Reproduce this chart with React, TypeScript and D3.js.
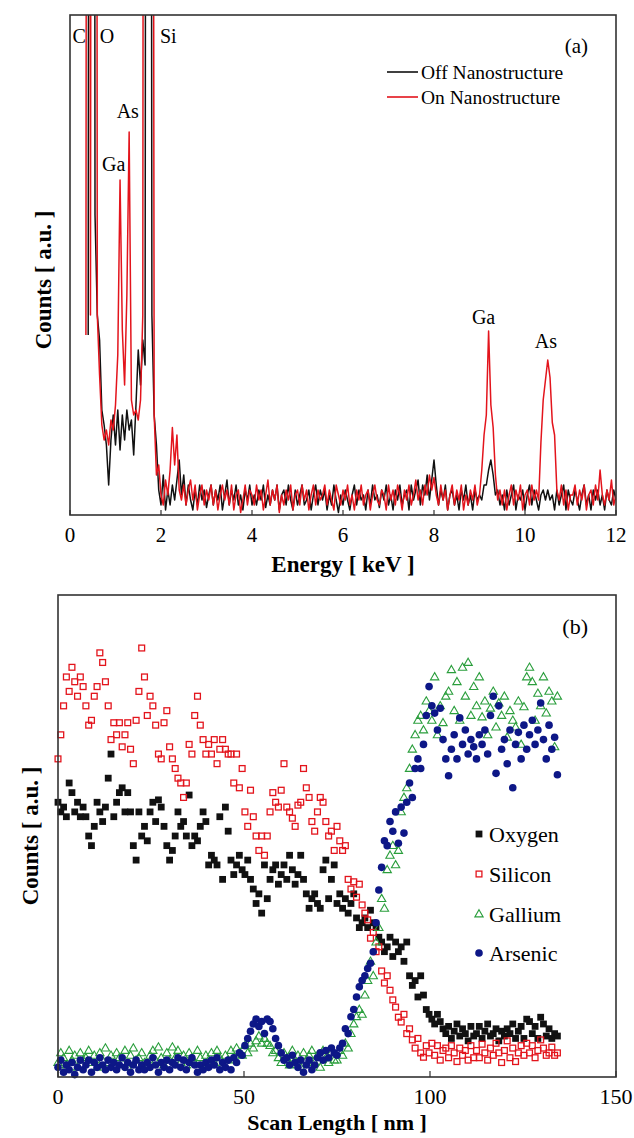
import React from "react";
import * as d3 from "d3";

// ---- panel (a): EDS spectra, one value per 0.05 keV channel from 0.35 keV ----
const channelStart = 0.35;
const channelStep = 0.05;

const offCounts: (number | null)[] = [
  null, 36, 600, 600, 60, 40, 35, 21, 18, 14,
  6, 15, 20, 14, 21, 13, 20, 15, 21, 17,
  19, 12, 22, 33, 26, 35, 30, 500, 500, 40,
  20, 14, 5, 2,
  8, 1, 5, 2, 6, 3, 7, 11, 4, 8,
  2, 6, 3, 1, 5, 2, 6, 3, 5, 1.5,
  4, 6, 2, 5, 3, 6, 1, 4, 7, 2,
  5, 3, 6, 2, 4, 1, 5, 3, 6, 2,
  4, 2, 5, 3, 6, 1.5, 4, 2, 5, 3,
  6, 1, 4, 5, 2, 6, 3, 1, 5, 2,
  4, 6, 2, 3, 5, 1, 4, 6, 2, 5,
  3, 5, 1, 4, 2, 6, 3, 0.5, 4, 2,
  5, 3, 1, 4, 6, 2, 5, 3, 4, 1,
  5, 2, 6, 3, 4, 1.5, 5, 3, 6, 2,
  4, 1, 5, 3, 6, 2, 4, 5, 1, 6,
  3, 5, 7, 2, 6, 4, 8, 3, 7, 11,
  6, 2, 5, 3, 6, 1, 4, 5, 2, 4,
  1, 5, 3, 6, 2, 4, 1, 5, 3, 4,
  3, 6, 6, 9, 11, 8, 4, 5, 2, 4,
  1, 5, 2, 4, 6, 1, 4, 3, 5, 1,
  4, 6, 2, 5, 3, 1, 4, 5, 3, 5,
  3, 4, 1, 5, 2, 4, 6, 1, 5, 3,
  2, 5, 3, 1, 4, 6, 2, 4, 1, 5,
  3, 5, 2, 4, 1, 5, 3, 2, 5, 3,
];

const onCounts: number[] = [
  36, 600, 40, 600, 600, 40, 28, 18, 15, 17,
  14, 19, 17, 22, 32, 67, 37, 26, 44, 76.6,
  23, 20, 21, 19, 23, 40, 600, 600, 600, 400,
  20, 8, 10, 4,
  2, 7, 4, 9, 17.5, 10, 16, 5, 3, 6,
  2, 5, 7, 3, 6, 1, 4, 6, 2, 5,
  3, 6, 2, 5, 1, 4, 6, 3, 5, 2,
  6, 1, 4, 5, 0.5, 3, 6, 2, 5, 4,
  2, 6, 3, 5, 1, 4, 7, 2, 5, 3,
  6, 0.5, 4, 2, 5, 3, 6, 1, 4, 5,
  2, 6, 3, 5, 1, 4, 6, 2, 5, 3,
  4, 6, 2, 5, 3, 1, 6, 4, 2, 5,
  3, 6, 2, 4, 1, 5, 3, 6, 2, 4,
  5, 1, 4, 6, 3, 2, 5, 4, 1, 6,
  3, 5, 2, 6, 4, 1, 5, 3, 6, 2,
  4, 7, 3, 5, 2, 6, 4, 8, 5, 7.5,
  4, 2, 6, 3, 5, 1, 4, 6, 2, 5,
  3, 6, 1, 4, 2, 5, 3, 6, 2, 4,
  9, 16, 20, 36.8, 22, 17.5, 8, 3, 5, 2,
  5, 1, 4, 6, 2, 5, 3, 6, 1, 4,
  5, 2, 6, 3, 5, 3, 14.5, 23, 27, 31,
  27.5, 18.5, 16, 5, 3, 6, 2, 5, 1, 4,
  4, 6, 2, 5, 3, 6, 1, 4, 5, 2,
  6, 3, 9, 4, 2, 5, 3, 7, 2, 4,
];

const energyTicks = [0, 2, 4, 6, 8, 10, 12];

const peakNames = ["C", "O", "Si", "Ga", "As", "Ga", "As"];
const peakEnergy = [0.2, 0.81, 2.16, 0.96, 1.27, 9.09, 10.46];
const peakHeight = [94.4, 94.4, 94.4, 68.8, 79.4, 38.2, 33.4];

// ---- panel (b): line scan, one value per 0.75 nm ----
const scanStep = 0.75;

const oxygen = [
  57, 55, 56, 54, 61, 59, 55, 57, 54, 56,
  54, 50, 48, 52, 57, 55, 53, 56, 62, 67,
  54, 57, 59, 60, 55, 59, 55, 48, 45, 55,
  50, 52, 49, 55, 57, 53, 57.5, 56, 52, 48,
  45, 47, 50, 55, 52, 53, 50, 58.5, 48, 50,
  49, 52, 55, 53, 44, 46, 45, 44, 54, 41,
  56, 51, 45, 42, 44, 46, 43, 42, 45, 41,
  39, 36, 38, 34, 44, 37, 41, 43, 44, 40,
  42, 44, 41, 46, 43, 40, 42, 46, 41, 38,
  35, 37, 38, 36, 35, 43, 45, 37, 41, 44,
  36, 38, 35, 37, 34, 36, 38, 33, 31, 32,
  33, 31, 34.6, 32, 31, 29, 28, 26, 27, 29,
  25, 28, 26, 27, 24, 28, 21, 19, 20, 16.6,
  21, 17, 14, 13, 12, 11, 13, 11.5, 10, 9,
  10.5, 8, 9.5, 11, 8.5, 10, 9, 7.5, 10.5, 8.5,
  9, 10.5, 8, 9.5, 11, 8.5, 9, 10, 7.5, 9.5,
  8.5, 10, 9, 11, 8, 9.5, 10.5, 8, 12, 11.5,
  9, 10.5, 8, 12.4, 11, 8.5, 10, 8, 9, 8.5,
];

const silicon = [
  66, 71, 77, 83, 80, 85, 82, 79, 83, 81,
  77, 73, 74, 79, 81, 88, 86, 82, 77, 70,
  73.5, 71, 73.5, 68.5, 71, 73.5, 68, 65, 74, 80,
  89, 83, 75, 79, 77, 73, 67, 66, 73.5, 76,
  68.5, 66, 64, 62, 61, 58, 61, 69, 67, 75,
  79, 73, 70, 67, 69, 67, 70, 65, 68, 70,
  68, 67, 67, 61, 67, 60, 64, 55, 52, 59.5,
  54, 50, 47, 50, 46, 50, 55, 59, 57, 56,
  59.5, 65, 56, 55, 53.7, 52, 56.4, 57, 64, 60,
  58, 53, 51, 55, 58, 57, 53, 50, 51, 47,
  52, 49, 47, 48, 41, 39, 40.5, 37.3, 40, 35.7,
  34, 32.6, 28.8, 30, 26, 27, 22, 19.5, 21, 18,
  16, 14.5, 12.4, 11.4, 13, 9, 10, 7.7, 6, 8,
  5, 4.1, 6.5, 5, 7, 4.5, 6.5, 3.5, 5.5, 6,
  4, 6.5, 5, 3.2, 6, 4.5, 5.5, 3.5, 6.5, 4,
  5.5, 4, 6.8, 5, 3.5, 6, 4.5, 7, 5, 3,
  5.5, 7.5, 4, 6, 3.2, 5, 6.5, 4.5, 7, 5,
  6.5, 4, 5.5, 7.7, 6, 4.5, 5, 6.2, 4.5, 5,
];

const gallium = [
  3, 5, 4, 2.5, 5.5, 3.5, 4.5, 2, 5, 3.5,
  4, 5.5, 3, 4.5, 2, 5, 3.5, 6, 3, 4.5,
  2.5, 5, 4, 3, 5.5, 2, 4.5, 6, 3.5, 4,
  5, 3, 2, 4.5, 5.5, 3.5, 6.2, 4, 2.5, 5,
  3.5, 6.2, 4, 5.5, 3, 4.5, 2.5, 5, 4, 3,
  5.5, 4, 2, 4.5, 3.5, 5, 3, 5.5, 4, 2.5,
  4.5, 3.5, 5.5, 4, 6, 5, 4.5, 6.5, 5, 7,
  6, 7.5, 8.5, 7, 8, 7, 6.5, 5, 5.5, 4,
  3, 5, 4, 2.5, 5.5, 3.5, 4.5, 2, 5, 3.5,
  4.5, 5.5, 3, 4.5, 2, 5.5, 4, 3, 5, 3.5,
  3.5, 5.5, 4.5, 7, 6, 9, 11, 12.5, 14, 13,
  17, 20, 24, 21, 28, 31, 37, 35, 43, 46,
  48, 44, 47, 55, 58, 60, 64, 68, 71, 74,
  75, 72, 78, 76, 74, 83, 71, 77, 73.5, 79,
  80, 84.5, 76, 82, 74, 85, 79, 86, 75, 81,
  77, 83, 74.7, 78, 71, 76.5, 80, 72.6, 77.6, 75,
  79, 70.5, 76, 74, 72.6, 78, 69, 76.8, 83, 85,
  82, 74, 79.6, 77, 83, 75.5, 80, 78, 68.5, 79,
];

const arsenic = [
  2, 3.5, 1, 2.5, 1.5, 3, 0.5, 2, 3.5, 1.5,
  2.5, 3.5, 1, 3, 2, 4, 2.5, 1.5, 3.5, 2,
  3, 1.5, 2.5, 4, 2, 3, 1, 2.5, 3.5, 1.5,
  2.5, 1.5, 3, 2, 4, 2.5, 1, 3, 2, 3.5,
  1.5, 3, 2.5, 4, 2, 3.5, 1.5, 3, 4, 2.5,
  1, 2.5, 1.5, 3, 2, 3.5, 2.5, 4, 1.5, 3,
  2, 3.5, 1.5, 4, 3, 5, 4.5, 6.5, 8, 9.5,
  11, 12, 10.5, 11.5, 9, 12, 11.5, 10, 8, 6.5,
  5, 3.5, 4, 2.5, 4.5, 3, 2, 3.5, 1, 2.5,
  3.5, 1.5, 2.5, 4, 5, 3.5, 5.5, 4, 6, 5,
  4.5, 6, 7, 10, 9, 12.5, 14, 16.6, 18.7, 20,
  21, 22.5, 23.6, 26, 32, 38.8, 43.5, 49, 48, 53,
  51, 55, 48.5, 56, 50.6, 57, 61, 58, 64, 66,
  64, 69, 75, 81, 77, 75.5, 72, 76.5, 70, 66,
  62.5, 68, 71, 66, 74.5, 69, 72, 67, 70, 68.5,
  66, 71, 69, 72, 67, 75, 79, 63, 77, 68,
  70, 65, 72, 60, 69, 71.5, 66, 73, 68, 71,
  74, 69, 72, 77.6, 70, 66, 73, 68, 70.5, 62.7,
];

const scanTicks = [0, 50, 100, 150];
const elementNames = ["Oxygen", "Silicon", "Gallium", "Arsenic"];

const serif = "'Liberation Serif', 'Times New Roman', serif";
const RED = "#e3141c";
const BLACK = "#111";
const GREEN = "#2a9e3c";
const NAVY = "#0d1787";
const FRAME = "#333";

function Marker({ kind, x, y }: { kind: number; x: number; y: number }) {
  if (kind === 0)
    return <rect x={x - 3.4} y={y - 3.4} width={6.8} height={6.8} fill={BLACK} />;
  if (kind === 1)
    return (
      <rect x={x - 2.9} y={y - 2.9} width={5.8} height={5.8} fill="none" stroke={RED} strokeWidth={1.3} />
    );
  if (kind === 2)
    return (
      <path
        d={d3.symbol(d3.symbolTriangle, 30)() || ""}
        transform={`translate(${x},${y + 0.5})`}
        fill="none"
        stroke={GREEN}
        strokeWidth={1.1}
      />
    );
  return <circle cx={x} cy={y} r={3.8} fill={NAVY} />;
}

export default function App() {
  const W = 634;
  const H = 1138;

  // panel (a)
  const ax = d3.scaleLinear().domain([0, 12]).range([70, 616]);
  const ay = d3.scaleLinear().domain([0, 100]).range([515, 15]);
  const spectrum = d3
    .line<number | null>()
    .defined((v) => v != null)
    .x((_, i) => ax(channelStart + i * channelStep))
    .y((v) => ay(v as number));

  // panel (b)
  const bx = d3.scaleLinear().domain([0, 150]).range([58, 616]);
  const by = d3.scaleLinear().domain([0, 100]).range([1077, 595]);
  const series = [oxygen, silicon, gallium, arsenic];

  const [ax0, ax1] = ax.range();
  const [ay0, ay1] = ay.range();
  const [bx0, bx1] = bx.range();
  const [by0, by1] = by.range();

  return (
    <div style={{ position: "absolute", left: 0, top: 0 }}>
      <svg width={W} height={H} style={{ display: "block", background: "#fff", fontFamily: serif }}>
        <defs>
          <clipPath id="clipA">
            <rect x={ax0} y={ay1} width={ax1 - ax0} height={ay0 - ay1} />
          </clipPath>
        </defs>

        {/* ---------- (a) ---------- */}
        <g clipPath="url(#clipA)" fill="none" strokeLinejoin="round">
          <path d={spectrum(offCounts) || ""} stroke={BLACK} strokeWidth={1.5} />
          <path d={spectrum(onCounts) || ""} stroke={RED} strokeWidth={1.5} />
        </g>
        <rect x={ax0} y={ay1} width={ax1 - ax0} height={ay0 - ay1} fill="none" stroke={FRAME} strokeWidth={1.6} />
        {energyTicks.map((t) => (
          <g key={t}>
            <line x1={ax(t)} x2={ax(t)} y1={ay0} y2={ay0 - 5} stroke={FRAME} strokeWidth={1.2} />
            <text x={ax(t)} y={ay0 + 27} textAnchor="middle" fontSize={21}>
              {t}
            </text>
          </g>
        ))}
        <text x={(ax0 + ax1) / 2} y={ay0 + 57} textAnchor="middle" fontSize={23} fontWeight="bold">
          Energy [ keV ]
        </text>
        <text transform="translate(51,280) rotate(-90)" textAnchor="middle" fontSize={23} fontWeight="bold">
          Counts [ a.u. ]
        </text>
        {peakNames.map((name, i) => (
          <text key={i} x={ax(peakEnergy[i])} y={ay(peakHeight[i])} textAnchor="middle" fontSize={20}>
            {name}
          </text>
        ))}
        <text x={588} y={53} textAnchor="end" fontSize={21}>
          (a)
        </text>
        <line x1={387} x2={418} y1={72} y2={72} stroke={BLACK} strokeWidth={1.6} />
        <line x1={387} x2={418} y1={97} y2={97} stroke={RED} strokeWidth={1.6} />
        <text x={421} y={79} fontSize={19.5}>
          Off Nanostructure
        </text>
        <text x={421} y={104} fontSize={19.5}>
          On Nanostructure
        </text>

        {/* ---------- (b) ---------- */}
        {series.map((vals, k) => (
          <g key={k}>
            {vals.map((v, i) => (
              <Marker key={i} kind={k} x={bx(i * scanStep)} y={by(v)} />
            ))}
          </g>
        ))}
        <rect x={bx0} y={by1} width={bx1 - bx0} height={by0 - by1} fill="none" stroke={FRAME} strokeWidth={1.6} />
        {scanTicks.map((t) => (
          <g key={t}>
            <line x1={bx(t)} x2={bx(t)} y1={by0} y2={by0 - 6} stroke={FRAME} strokeWidth={1.2} />
            <text x={bx(t)} y={by0 + 27} textAnchor="middle" fontSize={22}>
              {t}
            </text>
          </g>
        ))}
        <text x={(bx0 + bx1) / 2} y={1130} textAnchor="middle" fontSize={22} fontWeight="bold">
          Scan Length [ nm ]
        </text>
        <text transform={`translate(38,${(by0 + by1) / 2}) rotate(-90)`} textAnchor="middle" fontSize={23} fontWeight="bold">
          Counts [ a.u. ]
        </text>
        <text x={588} y={634} textAnchor="end" fontSize={22}>
          (b)
        </text>
        {elementNames.map((name, k) => {
          const ly = [834, 874, 914, 953][k];
          return (
            <g key={name}>
              <Marker kind={k} x={479} y={ly} />
              <text x={489} y={ly + 8} fontSize={22}>
                {name}
              </text>
            </g>
          );
        })}
      </svg>
    </div>
  );
}
